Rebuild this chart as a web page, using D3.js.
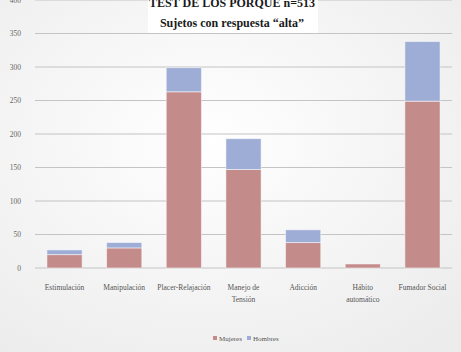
<!DOCTYPE html>
<html>
<head>
<meta charset="utf-8">
<script src="https://cdn.jsdelivr.net/npm/d3@7"></script>
<style>
  body { margin: 0; background: #fff; }
  svg { display: block; }
</style>
</head>
<body>
<div class="canvas"></div>
<script>
const categories = ['Estimulación', 'Manipulación', 'Placer-Relajación', 'Manejo de Tensión', 'Adicción', 'Hábito automático', 'Fumador Social'];
const labelLines = [['Estimulación'], ['Manipulación'], ['Placer-Relajación'], ['Manejo de', 'Tensión'], ['Adicción'], ['Hábito', 'automático'], ['Fumador Social']];
const mujeres = [20, 30, 263, 147, 38, 6, 249];
const hombres = [7, 8, 36, 46, 19, 0, 89];
const yTicks = [0, 50, 100, 150, 200, 250, 300, 350, 400];
const seriesNames = ['Mujeres', 'Hombres'];
const colors = ['#c48b8b', '#9eadd6'];

const svgWidth = 461;
const svgHeight = 352;
const margins = { top: 0, bottom: 84, left: 35, right: 9 };
const graphWidth = svgWidth - margins.left - margins.right;
const graphHeight = svgHeight - margins.top - margins.bottom;

const svg = d3.select('.canvas')
    .append('svg')
        .attr('width', svgWidth)
        .attr('height', svgHeight)
        .style('font-family', '"Liberation Serif", "DejaVu Serif", serif');

// soft grey background
const defs = svg.append('defs');
const grad = defs.append('radialGradient')
    .attr('id', 'bg').attr('cx', '45%').attr('cy', '40%').attr('r', '75%');
grad.append('stop').attr('offset', '0%').attr('stop-color', '#ffffff');
grad.append('stop').attr('offset', '100%').attr('stop-color', '#ececec');
svg.append('rect').attr('width', svgWidth).attr('height', svgHeight).attr('fill', 'url(#bg)');

const graphGroup = svg.append('g')
    .attr('transform', `translate(${margins.left},${margins.top})`);

const x = d3.scaleBand().domain(categories).range([0, graphWidth]).paddingInner(0.41).paddingOuter(0.2);
const y = d3.scaleLinear().domain([0, 400]).range([graphHeight, 0]);

// gridlines
graphGroup.append('g')
    .selectAll('line')
    .data(yTicks)
    .enter().append('line')
        .attr('x1', 0).attr('x2', graphWidth)
        .attr('y1', d => y(d)).attr('y2', d => y(d))
        .attr('stroke', '#c4c4c4')
        .attr('stroke-width', 1.2);

// y axis labels
const yAxis = d3.axisLeft(y).tickValues(yTicks).tickSize(0).tickPadding(14);
graphGroup.append('g').call(yAxis)
    .call(g => g.select('.domain').remove())
    .selectAll('text')
        .attr('fill', '#666')
        .style('font-size', '7.5px')
        .style('font-family', '"Liberation Serif", serif');

// stacked bars
const stackData = categories.map((c, i) => ({ cat: c, Mujeres: mujeres[i], Hombres: hombres[i] }));
const stacked = d3.stack().keys(seriesNames)(stackData);

graphGroup.selectAll('g.series')
    .data(stacked)
    .enter().append('g')
        .attr('class', 'series')
        .attr('fill', (d, i) => colors[i])
    .selectAll('rect')
    .data(d => d.filter(p => p[1] - p[0] > 0))
    .enter().append('rect')
        .attr('x', d => x(d.data.cat))
        .attr('width', x.bandwidth())
        .attr('y', d => y(d[1]))
        .attr('height', d => y(d[0]) - y(d[1]))
        .attr('stroke', '#ffffff')
        .attr('stroke-opacity', 0.5)
        .attr('stroke-width', 1);

// x labels
const xLabels = graphGroup.append('g')
    .attr('transform', `translate(0,${graphHeight})`)
    .selectAll('text')
    .data(categories)
    .enter().append('text')
        .attr('x', d => x(d) + x.bandwidth() / 2)
        .attr('y', 22)
        .attr('text-anchor', 'middle')
        .attr('fill', '#555')
        .style('font-size', '7.5px');

xLabels.selectAll('tspan')
    .data((d, i) => labelLines[i])
    .enter().append('tspan')
        .attr('x', function() { return d3.select(this.parentNode).attr('x'); })
        .attr('dy', (d, i) => i === 0 ? 0 : 12)
        .text(d => d);

// title
const title = svg.append('g');
title.append('rect')
    .attr('x', 148).attr('y', 0)
    .attr('width', 170).attr('height', 33)
    .attr('fill', '#ffffff');
title.append('text')
    .attr('x', 232).attr('y', 7)
    .attr('text-anchor', 'middle')
    .attr('font-weight', 'bold')
    .style('font-size', '12px')
    .attr('fill', '#1a1a1a')
    .text('TEST DE LOS PORQUE n=513');
title.append('text')
    .attr('x', 232).attr('y', 27)
    .attr('text-anchor', 'middle')
    .attr('font-weight', 'bold')
    .style('font-size', '12px')
    .attr('fill', '#1a1a1a')
    .text('Sujetos con respuesta “alta”');

// legend
const legend = svg.append('g').attr('transform', 'translate(213,341)');
const items = legend.selectAll('g')
    .data(seriesNames)
    .enter().append('g')
        .attr('transform', (d, i) => `translate(${i * 34},0)`);
items.append('rect')
    .attr('x', 0).attr('y', -5)
    .attr('width', 4).attr('height', 4)
    .attr('fill', (d, i) => colors[i]);
items.append('text')
    .attr('x', 6).attr('y', 0)
    .attr('fill', '#555')
    .style('font-size', '7px')
    .text(d => d);
</script>
</body>
</html>
